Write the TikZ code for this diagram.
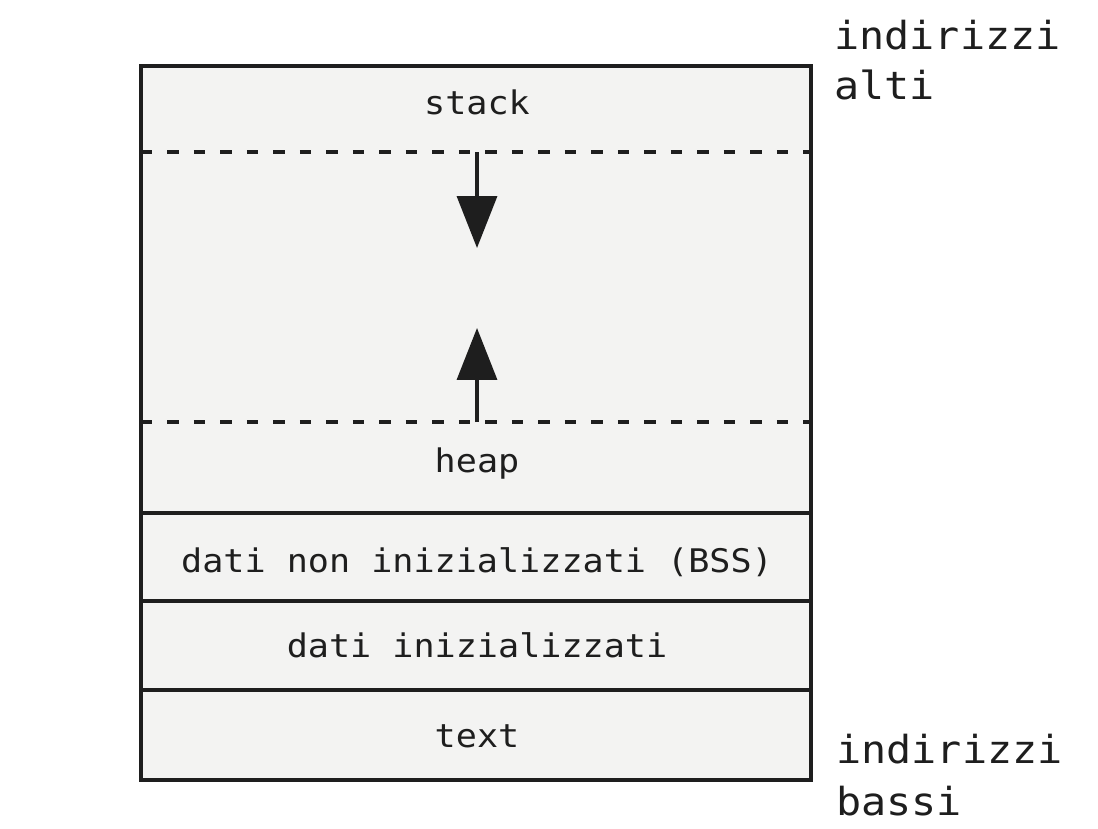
\documentclass[tikz,border=0pt]{standalone}
\usepackage{fontspec}
\usepackage{tikz}
\usetikzlibrary{arrows.meta,positioning}
\newfontfamily\memfont{DejaVu Sans Mono}[FakeStretch=1.08]
\definecolor{scanink}{HTML}{1E1E1E}
\definecolor{scanpaper}{HTML}{F3F3F2}

\begin{document}
\begin{tikzpicture}[x=0.02cm,y=-0.02cm,
        every node/.style={inner sep=0pt,text=scanink},
        memory/.style={draw=scanink,fill=scanpaper,line width=2.2pt},
        border/.style={draw=scanink,line width=2.2pt},
        limit/.style={draw=scanink,line width=2.2pt,dash pattern=on 0.23cm off 0.3cm},
        growth/.style={draw=scanink,line width=2pt,-{Triangle[length=1.04cm,width=0.8cm]}},
        segname/.style={anchor=base,font=\memfont\fontsize{18.5}{22}\selectfont},
        addr/.style={anchor=base west,font=\memfont\fontsize{22}{26}\selectfont}]
        \useasboundingbox (0,0) rectangle (1098,828);
        \draw[memory] (141,66) rectangle (811,780);
        \coordinate (stack_w) at (141,152);
        \coordinate (stack_e) at (811,152);
        \coordinate (heap_w) at (141,422);
        \coordinate (heap_e) at (811,422);
        \coordinate (bss_w) at (141,513);
        \coordinate (bss_e) at (811,513);
        \coordinate (data_w) at (141,601);
        \coordinate (data_e) at (811,601);
        \coordinate (text_w) at (141,690);
        \coordinate (text_e) at (811,690);
        \draw[limit] (stack_w) -- (stack_e);
        \draw[limit] (heap_w) -- (heap_e);
        \draw[border] (bss_w) -- (bss_e);
        \draw[border] (data_w) -- (data_e);
        \draw[border] (text_w) -- (text_e);
        \node[segname] (stack) at (477,114) {stack};
        \node[segname] (heap) at (477,472) {heap};
        \node[segname] (bss) at (477,572) {dati non inizializzati (BSS)};
        \node[segname] (data) at (477,657) {dati inizializzati};
        \node[segname] (text) at (477,747) {text};
        \coordinate (stack_from) at (477,152);
        \coordinate (stack_to) at (477,248);
        \coordinate (heap_from) at (477,422);
        \coordinate (heap_to) at (477,328);
        \draw[growth] (stack_from) -- (stack_to);
        \draw[growth] (heap_from) -- (heap_to);
        \node[addr] (alti_a) at (834,50) {indirizzi};
        \node[addr] (alti_b) at (834,99) {alti};
        \node[addr] (bassi_a) at (836,763) {indirizzi};
        \node[addr] (bassi_b) at (836,815) {bassi};
\end{tikzpicture}
\end{document}
